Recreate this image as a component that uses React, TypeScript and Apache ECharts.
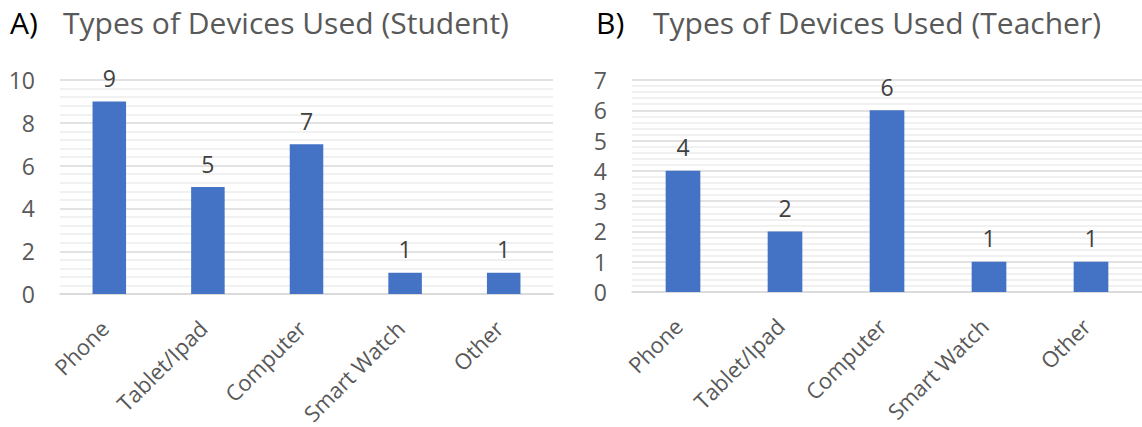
import React, { useEffect, useRef } from "react";
import * as echarts from "echarts";

const categories = ["Phone", "Tablet/Ipad", "Computer", "Smart Watch", "Other"];
const studentValues = [9, 5, 7, 1, 1];
const teacherValues = [4, 2, 6, 1, 1];
const titleA = "Types of Devices Used (Student)";
const titleB = "Types of Devices Used (Teacher)";

const FONT = "Open Sans";
const GRAY = "#595959";
const BAR = "#4472C4";

export default function App() {
  const ref = useRef<HTMLDivElement>(null);
  useEffect(() => {
    if (!ref.current) return;
    const chart = echarts.init(ref.current, undefined, { renderer: "svg" });
    const xAxisBase = (gridIndex: number) => ({
      type: "category",
      gridIndex,
      data: categories,
      axisTick: { show: false },
      axisLine: { lineStyle: { color: "#D9D9D9", width: 1.5 } },
      axisLabel: {
        rotate: 45,
        interval: 0,
        margin: 25,
        padding: [0, 7, 0, 0],
        color: GRAY,
        fontFamily: FONT,
        fontSize: 22,
      },
    });
    const yAxisBase = (gridIndex: number, max: number, interval: number) => ({
      type: "value",
      gridIndex,
      min: 0,
      max,
      interval,
      axisLine: { show: false },
      axisTick: { show: false },
      axisLabel: { margin: 25, color: GRAY, fontFamily: FONT, fontSize: 23 },
      splitLine: { lineStyle: { color: "#D9D9D9", width: 1.5 } },
      minorTick: { show: false, splitNumber: 5 },
      minorSplitLine: { show: true, lineStyle: { color: "#EDEDED", width: 1.5 } },
    });
    const seriesBase = (i: number, data: number[]) => ({
      type: "bar",
      xAxisIndex: i,
      yAxisIndex: i,
      data,
      barWidth: "34%",
      itemStyle: { color: BAR },
      label: {
        show: true,
        position: "top",
        distance: 12,
        color: "#404040",
        fontFamily: FONT,
        fontSize: 23,
      },
    });
    const titleText = (x: number, text: string, fill: string) => ({
      type: "text",
      x,
      y: 22,
      style: {
        text,
        fill,
        font: `30px '${FONT}'`,
        textAlign: "left",
        textVerticalAlign: "middle",
      },
    });
    chart.setOption({
      animation: false,
      grid: [
        { left: 60, top: 80, width: 493, bottom: 131 },
        { left: 632, top: 80, width: 513, bottom: 135 },
      ],
      xAxis: [xAxisBase(0), xAxisBase(1)],
      yAxis: [yAxisBase(0, 10, 2), yAxisBase(1, 7, 1)],
      series: [seriesBase(0, studentValues), seriesBase(1, teacherValues)],
      graphic: [
        titleText(10, "A)", "#000000"),
        titleText(63, titleA, GRAY),
        titleText(596, "B)", "#000000"),
        titleText(653, titleB, GRAY),
      ],
    });
    return () => chart.dispose();
  }, []);
  return (
    <div
      ref={ref}
      style={{ position: "fixed", left: 0, top: 0, width: 1142, height: 427, background: "#fff" }}
    />
  );
}
